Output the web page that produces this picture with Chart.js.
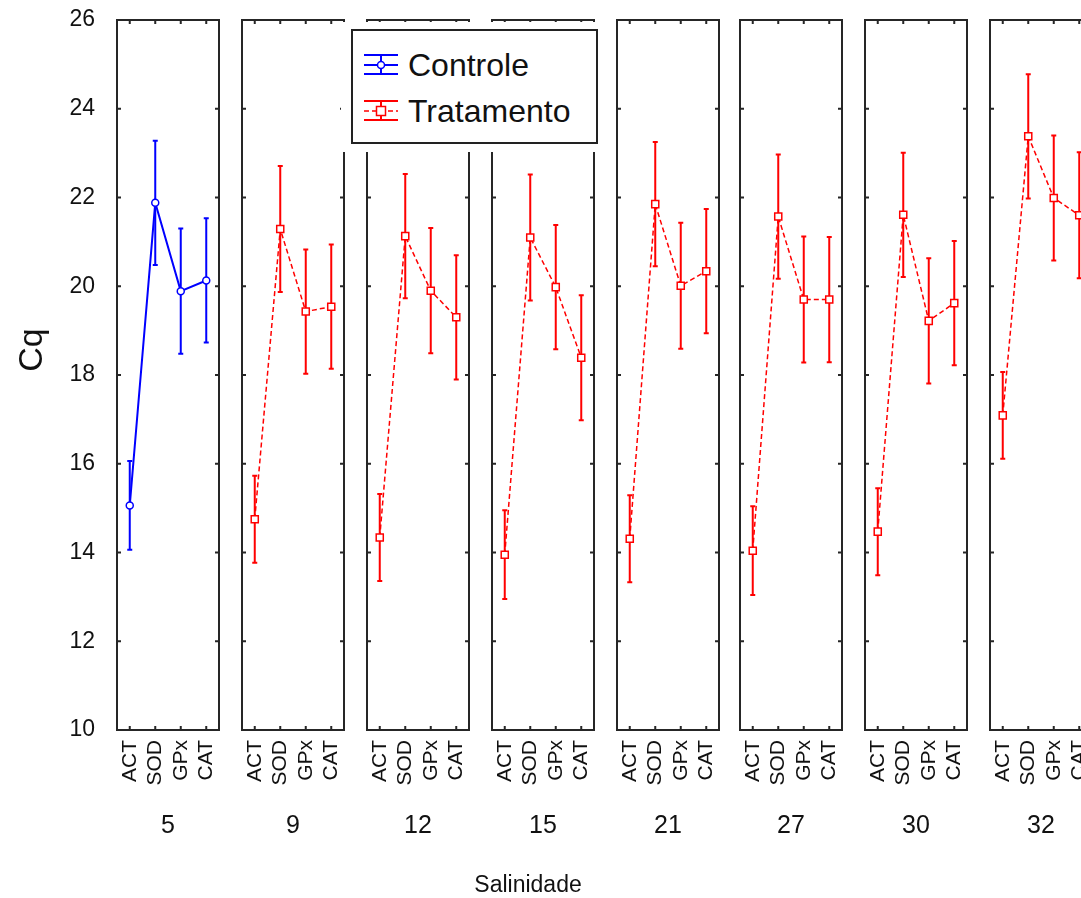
<!DOCTYPE html>
<html>
<head>
<meta charset="utf-8">
<script src="https://cdn.jsdelivr.net/npm/chart.js@4/dist/chart.umd.min.js"></script>
<style>
  body { margin: 0; background: #fff; font-family: 'Liberation Sans', Arial, sans-serif; }
  #wrap { position: relative; width: 1081px; height: 898px; overflow: hidden; }
  #wrap canvas { position: absolute; left: 0; top: 0; }
  #legend { position: absolute; left: 341px; top: 22px; width: 264px; height: 130px; background: #fff; z-index: 5; }
  #legend .box { position: absolute; left: 10px; top: 7px; width: 247px; height: 115px; box-sizing: border-box; border: 2px solid #222; }
  #legend .row { position: absolute; left: 23px; height: 34px; display: flex; align-items: center; }
  #legend .row span { margin-left: 10px; font-size: 32px; color: #111; }
</style>
</head>
<body>
<div id="wrap">
  <canvas id="p0" width="1120" height="898"></canvas>
  <canvas id="p1" width="1120" height="898"></canvas>
  <canvas id="p2" width="1120" height="898"></canvas>
  <canvas id="p3" width="1120" height="898"></canvas>
  <canvas id="p4" width="1120" height="898"></canvas>
  <canvas id="p5" width="1120" height="898"></canvas>
  <canvas id="p6" width="1120" height="898"></canvas>
  <canvas id="p7" width="1120" height="898"></canvas>
  <div id="legend">
    <div class="box"></div>
    <div class="row" style="top:26px">
      <svg width="34" height="24">
        <line x1="0" y1="2" x2="34" y2="2" stroke="#0000ff" stroke-width="2"/>
        <line x1="0" y1="21" x2="34" y2="21" stroke="#0000ff" stroke-width="2"/>
        <line x1="0" y1="12" x2="34" y2="12" stroke="#0000ff" stroke-width="2"/>
        <line x1="17" y1="2" x2="17" y2="21" stroke="#0000ff" stroke-width="2"/>
        <circle cx="17" cy="12" r="3.5" fill="#fff" stroke="#0000ff" stroke-width="1.5"/>
      </svg>
      <span>Controle</span>
    </div>
    <div class="row" style="top:72px">
      <svg width="34" height="24">
        <line x1="0" y1="2" x2="34" y2="2" stroke="#ff0000" stroke-width="2"/>
        <line x1="0" y1="21" x2="34" y2="21" stroke="#ff0000" stroke-width="2"/>
        <line x1="0" y1="12" x2="34" y2="12" stroke="#ff0000" stroke-width="1.5" stroke-dasharray="5,3"/>
        <line x1="17" y1="2" x2="17" y2="21" stroke="#ff0000" stroke-width="2"/>
        <rect x="12.5" y="7.5" width="9" height="9" fill="#fff" stroke="#ff0000" stroke-width="1.5"/>
      </svg>
      <span>Tratamento</span>
    </div>
  </div>
</div>
<script>
// * Categories and panel labels
const categories = ['ACT', 'SOD', 'GPx', 'CAT']
const salinities = ['5', '9', '12', '15', '21', '27', '30', '32']

// * Mean Cq per salinity (ACT, SOD, GPx, CAT)
const cq5 = [15.06, 21.88, 19.89, 20.13]
const cq9 = [14.75, 21.29, 19.43, 19.54]
const cq12 = [14.34, 21.13, 19.90, 19.30]
const cq15 = [13.95, 21.10, 19.98, 18.39]
const cq21 = [14.31, 21.85, 20.01, 20.34]
const cq27 = [14.04, 21.57, 19.70, 19.70]
const cq30 = [14.47, 21.61, 19.22, 19.62]
const cq32 = [17.09, 23.38, 21.99, 21.60]

// * Error bar half widths
const err5 = [1.00, 1.40, 1.41, 1.40]
const err9 = [0.98, 1.42, 1.40, 1.40]
const err12 = [0.98, 1.40, 1.41, 1.40]
const err15 = [1.00, 1.42, 1.40, 1.41]
const err21 = [0.98, 1.40, 1.42, 1.40]
const err27 = [1.00, 1.40, 1.42, 1.41]
const err30 = [0.98, 1.40, 1.41, 1.40]
const err32 = [0.98, 1.40, 1.41, 1.42]

// * Y axis range
const yMin = 10
const yMax = 26
const yStep = 2

const means = [cq5, cq9, cq12, cq15, cq21, cq27, cq30, cq32]
const errors = [err5, err9, err12, err15, err21, err27, err30, err32]

Chart.defaults.font.family = "'Liberation Sans', Arial, sans-serif"
Chart.defaults.color = '#111'

// panel placement (px)
const panelLeft = [117, 242, 367, 492, 617, 740, 865, 990]
const panelWidth = 102
const canvasWidth = 1120

// * Frame, tick marks and error bars
const framePlugin = {
    id: 'frame',
    beforeDatasetsDraw(chart) {
        const { ctx, chartArea: a, scales: { x, y } } = chart
        ctx.save()
        ctx.strokeStyle = '#262626'
        ctx.lineWidth = 2
        ctx.strokeRect(a.left, a.top, a.width, a.height)
        ctx.beginPath()
        y.ticks.forEach(t => {
            const py = y.getPixelForValue(t.value)
            ctx.moveTo(a.left, py); ctx.lineTo(a.left + 4, py)
            ctx.moveTo(a.right, py); ctx.lineTo(a.right - 4, py)
        })
        categories.forEach((c, i) => {
            const px = x.getPixelForValue(i)
            ctx.moveTo(px, a.top); ctx.lineTo(px, a.top + 4)
            ctx.moveTo(px, a.bottom); ctx.lineTo(px, a.bottom - 4)
        })
        ctx.stroke()

        // error bars
        chart.data.datasets.forEach(ds => {
            ctx.strokeStyle = ds.borderColor
            ctx.lineWidth = 2
            ctx.beginPath()
            ds.data.forEach((v, i) => {
                const px = x.getPixelForValue(i)
                const top = y.getPixelForValue(v + ds.errors[i])
                const bot = y.getPixelForValue(v - ds.errors[i])
                ctx.moveTo(px, top); ctx.lineTo(px, bot)
                ctx.moveTo(px - 2.5, top); ctx.lineTo(px + 2.5, top)
                ctx.moveTo(px - 2.5, bot); ctx.lineTo(px + 2.5, bot)
            })
            ctx.stroke()
        })
        ctx.restore()
    }
}

// * Figure-level axis titles
const titlesPlugin = {
    id: 'titles',
    afterDraw(chart) {
        const ctx = chart.ctx
        ctx.save()
        ctx.fillStyle = '#111'
        ctx.textAlign = 'center'
        ctx.textBaseline = 'middle'
        ctx.font = "34px 'Liberation Sans', Arial, sans-serif"
        ctx.translate(33, 350)
        ctx.rotate(-Math.PI / 2)
        ctx.fillText('Cq', 0, 0)
        ctx.restore()
        ctx.save()
        ctx.fillStyle = '#111'
        ctx.textAlign = 'center'
        ctx.textBaseline = 'middle'
        ctx.font = "23px 'Liberation Sans', Arial, sans-serif"
        ctx.fillText('Salinidade', 528, 886)
        ctx.restore()
    }
}

// * Init / Render Block
salinities.forEach((s, i) => {
    const control = i === 0
    const color = control ? '#0000ff' : '#ff0000'
    const left = panelLeft[i]
    new Chart(document.getElementById('p' + i), {
        type: 'line',
        data: {
            labels: categories,
            datasets: [{
                label: control ? 'Controle' : 'Tratamento',
                data: means[i],
                errors: errors[i],
                borderColor: color,
                borderWidth: control ? 2 : 1.5,
                borderDash: control ? [] : [5, 3],
                pointStyle: control ? 'circle' : 'rect',
                pointRadius: control ? 3.5 : 5,
                pointBackgroundColor: '#fff',
                pointBorderColor: color,
                pointBorderWidth: 1.5,
                tension: 0,
            }]
        },
        options: {
            responsive: false,
            animation: false,
            events: [],
            layout: {
                padding: { left: left - 117, right: canvasWidth - left - panelWidth, top: 20, bottom: 0 }
            },
            plugins: {
                legend: { display: false },
                tooltip: { enabled: false }
            },
            scales: {
                x: {
                    type: 'category',
                    offset: true,
                    grid: { display: false, drawTicks: false },
                    border: { display: false },
                    ticks: {
                        autoSkip: false,
                        minRotation: 90,
                        maxRotation: 90,
                        padding: 10,
                        color: '#111',
                        font: { size: 21 }
                    },
                    title: {
                        display: true,
                        text: s,
                        color: '#111',
                        font: { size: 25 },
                        padding: { top: 0, bottom: 57 }
                    },
                    afterFit: scale => {
                        scale.height = 168
                        scale.paddingLeft = 0
                        scale.paddingRight = 0
                    }
                },
                y: {
                    min: yMin,
                    max: yMax,
                    grid: { display: false, drawTicks: false },
                    border: { display: false },
                    ticks: {
                        stepSize: yStep,
                        display: control,
                        padding: 22,
                        color: '#111',
                        font: { size: 23 }
                    },
                    afterFit: scale => {
                        scale.width = 117
                        scale.paddingTop = 0
                        scale.paddingBottom = 0
                    }
                }
            }
        },
        plugins: control ? [framePlugin, titlesPlugin] : [framePlugin]
    })
})
</script>
</body>
</html>
